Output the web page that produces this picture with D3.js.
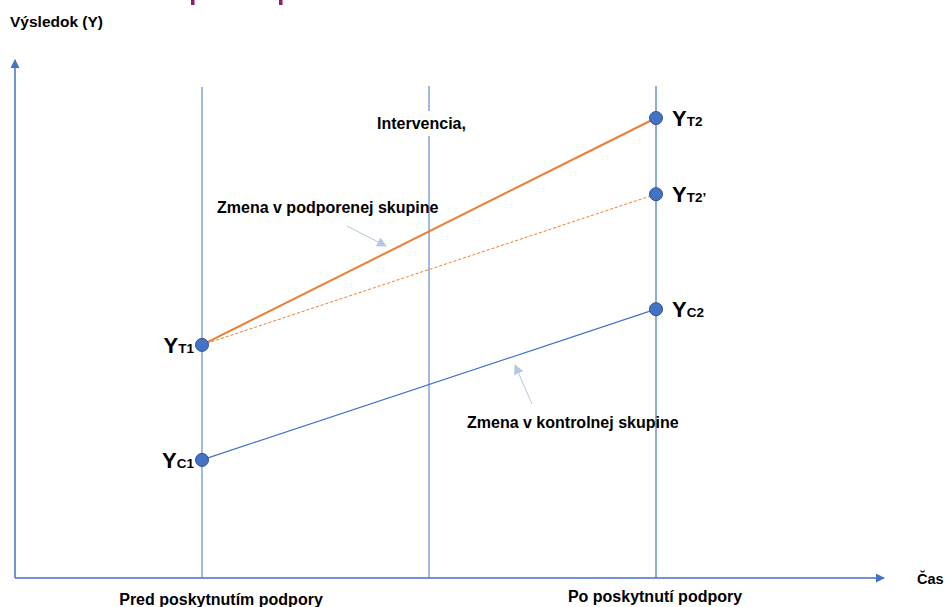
<!DOCTYPE html>
<html>
<head>
<meta charset="utf-8">
<script src="https://cdn.jsdelivr.net/npm/d3@7"></script>
<style>
  body { margin: 0; background: #fff; }
  text { font-family: "Liberation Sans", Arial, sans-serif; font-weight: bold; fill: #000; }
</style>
</head>
<body>
<div id="chart"></div>
<script>
var svgWidth = 946;
var svgHeight = 607;

// data
var periods = ["pred", "intervencia", "po"];
var periodLabels = ["Pred poskytnutím podpory", "", "Po poskytnutí podpory"];
var treated = [45.0, 88.8];        // Y_T1, Y_T2
var counterfactual = [45.0, 74.1]; // Y_T1, Y_T2'
var control = [22.8, 51.9];        // Y_C1, Y_C2
var pointNames = [
    {sub: "T1", period: "pred", value: 45.0},
    {sub: "C1", period: "pred", value: 22.8},
    {sub: "T2", period: "po", value: 88.8},
    {sub: "T2’", period: "po", value: 74.1},
    {sub: "C2", period: "po", value: 51.9}
];

var svg = d3.select("#chart")
    .append("svg")
    .attr("width", svgWidth)
    .attr("height", svgHeight);

var defs = svg.append("defs");
function marker(id, color, w){
    defs.append("marker")
        .attr("id", id)
        .attr("viewBox", "0 0 10 10")
        .attr("refX", 9).attr("refY", 5)
        .attr("markerWidth", w).attr("markerHeight", w)
        .attr("markerUnits", "userSpaceOnUse")
        .attr("orient", "auto")
        .append("path")
        .attr("d", "M0,0 L10,5 L0,10 Z")
        .attr("fill", color);
}
marker("axisArrow", "#4472C4", 9);
marker("noteArrow", "#B4C7E7", 10);

// scales
var xScale = d3.scalePoint().domain(periods).range([202, 656]);
var yScale = d3.scaleLinear().domain([0, 100]).range([578, 60]);

// cut off title fragments at top
svg.append("rect").attr("x", 191).attr("y", 0).attr("width", 3.5).attr("height", 5).attr("fill", "#8E1F61");
svg.append("rect").attr("x", 279).attr("y", 0).attr("width", 3.5).attr("height", 5).attr("fill", "#8E1F61");

// vertical period lines
svg.append("line")
    .attr("x1", xScale("pred")).attr("x2", xScale("pred"))
    .attr("y1", 87).attr("y2", 578)
    .attr("stroke", "#4472C4").attr("stroke-width", 1);
svg.append("line")
    .attr("x1", xScale("intervencia")).attr("x2", xScale("intervencia"))
    .attr("y1", 86).attr("y2", 578)
    .attr("stroke", "#4472C4").attr("stroke-width", 1);
svg.append("line")
    .attr("x1", xScale("po")).attr("x2", xScale("po"))
    .attr("y1", 86).attr("y2", 578)
    .attr("stroke", "#8FAADC").attr("stroke-width", 2);

// axes
svg.append("line")
    .attr("x1", 15).attr("y1", 578).attr("x2", 15).attr("y2", 60)
    .attr("stroke", "#4472C4").attr("stroke-width", 1.5)
    .attr("marker-end", "url(#axisArrow)");
svg.append("line")
    .attr("x1", 15).attr("y1", 578).attr("x2", 884).attr("y2", 578)
    .attr("stroke", "#4472C4").attr("stroke-width", 1.5)
    .attr("marker-end", "url(#axisArrow)");

svg.append("text").attr("x", 10).attr("y", 27).style("font-size", "15.5px").text("Výsledok (Y)");
svg.append("text").attr("x", 917).attr("y", 584).style("font-size", "14.5px").text("Čas");

svg.selectAll(".plabel")
    .data(periodLabels)
    .enter()
    .append("text")
    .attr("class", "plabel")
    .attr("x", (d, i) => xScale(periods[i]) + (i === 0 ? 19 : -1))
    .attr("y", (d, i) => i === 0 ? 605 : 602)
    .attr("text-anchor", "middle")
    .style("font-size", "16px")
    .text(d => d);

// intervention label with white box
var intText = svg.append("text")
    .attr("x", 377).attr("y", 129)
    .style("font-size", "16px")
    .text("Intervencia,");
var bb = intText.node().getBBox();
svg.insert("rect", "text")
    .attr("x", bb.x - 2).attr("y", bb.y - 4)
    .attr("width", bb.width + 4).attr("height", bb.height + 8)
    .attr("fill", "#fff");

// lines
var line = d3.line().x(d => xScale(d[0])).y(d => yScale(d[1]));
svg.append("path")
    .attr("d", line([["pred", counterfactual[0]], ["po", counterfactual[1]]]))
    .attr("stroke", "#ED7D31").attr("stroke-width", 1)
    .attr("stroke-dasharray", "3,2").attr("fill", "none");
svg.append("path")
    .attr("d", line([["pred", treated[0]], ["po", treated[1]]]))
    .attr("stroke", "#ED7D31").attr("stroke-width", 2).attr("fill", "none");
svg.append("path")
    .attr("d", line([["pred", control[0]], ["po", control[1]]]))
    .attr("stroke", "#4472C4").attr("stroke-width", 1.2).attr("fill", "none");

// annotations
svg.append("text").attr("x", 217).attr("y", 213).style("font-size", "16px").text("Zmena v podporenej skupine");
svg.append("line")
    .attr("x1", 347).attr("y1", 226).attr("x2", 386).attr("y2", 246)
    .attr("stroke", "#B4C7E7").attr("stroke-width", 1)
    .attr("marker-end", "url(#noteArrow)");
svg.append("text").attr("x", 467).attr("y", 428).style("font-size", "16px").text("Zmena v kontrolnej skupine");
svg.append("line")
    .attr("x1", 532).attr("y1", 404).attr("x2", 515).attr("y2", 365)
    .attr("stroke", "#B4C7E7").attr("stroke-width", 1)
    .attr("marker-end", "url(#noteArrow)");

// points
svg.selectAll(".dot")
    .data(pointNames)
    .enter()
    .append("circle")
    .attr("class", "dot")
    .attr("cx", d => xScale(d.period))
    .attr("cy", d => yScale(d.value))
    .attr("r", 6.5)
    .attr("fill", "#4472C4")
    .attr("stroke", "#2F528F")
    .attr("stroke-width", 1);

var labels = svg.selectAll(".ylabel")
    .data(pointNames)
    .enter()
    .append("text")
    .attr("class", "ylabel")
    .attr("x", d => d.period === "pred" ? xScale(d.period) - 8 : xScale(d.period) + 16)
    .attr("y", d => yScale(d.value) + 8)
    .attr("text-anchor", d => d.period === "pred" ? "end" : "start");
labels.append("tspan").style("font-size", "22px").text("Y");
labels.append("tspan").style("font-size", "13.5px").text(d => d.sub);
</script>
</body>
</html>
